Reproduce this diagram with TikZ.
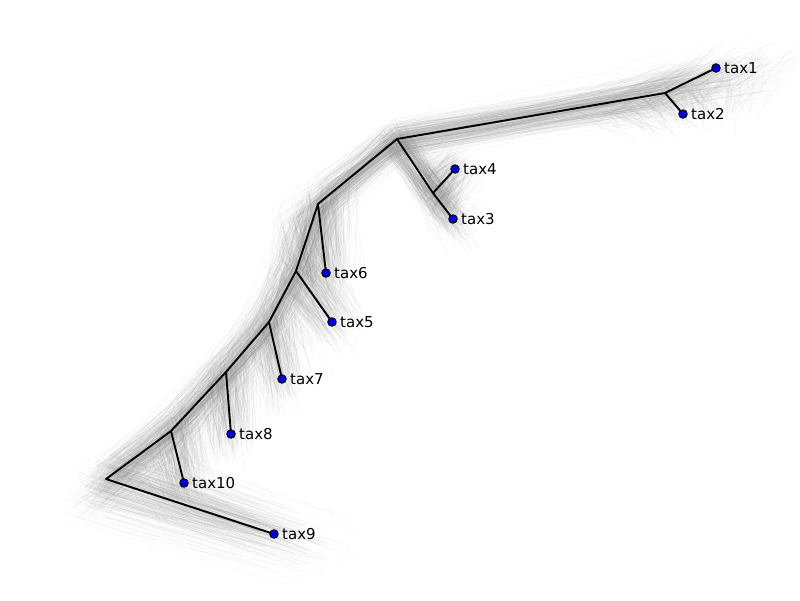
\documentclass[tikz,border=0pt]{standalone}
\usepackage{fontspec}
\setmainfont{DejaVu Sans}
\usetikzlibrary{calc}
\begin{document}
\begin{tikzpicture}[x=1pt,y=-1pt,
  leaf/.style={circle,draw=black,fill=blue!85!black,inner sep=0pt,minimum size=8.5pt,line width=0.9pt},
  branch/.style={line width=1.9pt,line cap=round,line join=round},
  cloud/.style={black!60,line width=0.5pt,opacity=0.06},
  every label/.style={font=\fontsize{15pt}{17pt}\selectfont}]
\useasboundingbox (0,0) rectangle (800,600);
\pgfmathsetseed{11}
% inner points
\coordinate (ntop) at (397,139);
\coordinate (n12) at (665,93);
\coordinate (n34) at (433,193);
\coordinate (na) at (318,204);
\coordinate (nb) at (296,271);
\coordinate (nc) at (269,322);
\coordinate (nd) at (226,372);
\coordinate (ne) at (171,431);
\coordinate (nf) at (106,479);
% tips
\coordinate (t1) at (716,68);
\coordinate (t2) at (683,114);
\coordinate (t3) at (453,219);
\coordinate (t4) at (455,169);
\coordinate (t5) at (332,322);
\coordinate (t6) at (326,273);
\coordinate (t7) at (282,379);
\coordinate (t8) at (231,434);
\coordinate (t9) at (274,534);
\coordinate (t10) at (184,483);
% sampled trees
\foreach \i in {1,...,350}
{
    \pgfmathsetmacro\dx{22*(rand+rand)/2}
    \pgfmathsetmacro\dy{22*(rand+rand)/2}
    \coordinate (jntop) at ($(ntop)+(\dx,\dy)$);
    \foreach \c/\p in {n12/ntop,t1/n12,t2/n12,n34/ntop,t4/n34,t3/n34,na/ntop,t6/na,nb/na,t5/nb,nc/nb,t7/nc,nd/nc,t8/nd,ne/nd,t10/ne,nf/ne,t9/nf}
    {
        \pgfmathsetmacro\f{1+0.6*(rand+rand)/2}
        \pgfmathsetmacro\g{0.7*\f}
        \pgfmathsetmacro\h{0.3+0.7*\f}
        \pgfmathsetmacro\dx{18*(rand+rand)/2}
        \pgfmathsetmacro\dy{18*(rand+rand)/2}
        \coordinate (j\c) at ($0.7*(j\p)+\h*(\c)-\g*(\p)+(\dx,\dy)$);
    }
    \draw[cloud](jt1)--(jn12)--(jt2) (jn12)--(jntop)--(jn34)--(jt4) (jn34)--(jt3)
        (jntop)--(jna)--(jt6) (jna)--(jnb)--(jt5) (jnb)--(jnc)--(jt7)
        (jnc)--(jnd)--(jt8) (jnd)--(jne)--(jt10) (jne)--(jnf)--(jt9);
}
% consensus tree
\draw[branch](t1)--(n12)--(t2) (n12)--(ntop)--(n34)--(t4) (n34)--(t3)
    (ntop)--(na)--(t6) (na)--(nb)--(t5) (nb)--(nc)--(t7)
    (nc)--(nd)--(t8) (nd)--(ne)--(t10) (ne)--(nf)--(t9);
\foreach \x in {1,...,10}
{
    \node[leaf,label={right:tax\x}] (tax\x) at (t\x) {};
}
\end{tikzpicture}
\end{document}
